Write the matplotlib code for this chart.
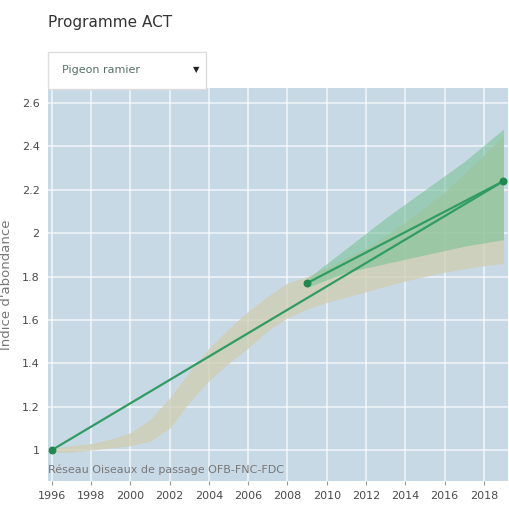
import numpy as np
import matplotlib.pyplot as plt
from matplotlib.patches import FancyBboxPatch

# trend lines
trend_years = [1996, 2019]
trend_vals = [1.0, 2.24]
short_years = [2009, 2019]
short_vals = [1.77, 2.24]

# long-term confidence band (grey)
band_years = [1996, 1997, 1998, 1999, 2000, 2001, 2002, 2003, 2004, 2005, 2006,
              2007, 2008, 2009, 2010, 2012, 2014, 2016, 2018, 2019]
band_low = [0.99, 0.99, 1.00, 1.01, 1.02, 1.04, 1.10, 1.22, 1.32, 1.40, 1.47,
            1.55, 1.61, 1.65, 1.68, 1.73, 1.78, 1.82, 1.85, 1.86]
band_high = [1.01, 1.02, 1.03, 1.05, 1.08, 1.14, 1.24, 1.36, 1.47, 1.56, 1.64,
             1.71, 1.77, 1.80, 1.84, 1.93, 2.05, 2.19, 2.36, 2.45]

# short-term confidence band (green)
green_years = [2009, 2011, 2013, 2015, 2017, 2019]
green_low = [1.75, 1.82, 1.86, 1.90, 1.94, 1.97]
green_high = [1.79, 1.93, 2.07, 2.20, 2.33, 2.48]

xticks = list(range(1996, 2019, 2))
yticks = [1, 1.2, 1.4, 1.6, 1.8, 2, 2.2, 2.4, 2.6]
ytick_labels = ['1', '1.2', '1.4', '1.6', '1.8', '2', '2.2', '2.4', '2.6']

line_col = '#2f9d62'
bg_col = '#c8d9e6'
txt_col = '#4a4a4a'

fig = plt.figure(figsize=(5.1, 5.08), dpi=100)
fig.patch.set_facecolor('white')
ax = fig.add_axes([0.094, 0.053, 0.902, 0.774])
ax.set_facecolor(bg_col)

ax.fill_between(band_years, band_low, band_high, color='#cfcdb0', alpha=0.75, lw=0, zorder=2)
ax.fill_between(green_years, green_low, green_high, color='#74c092', alpha=0.55, lw=0, zorder=3)

ax.plot(trend_years, trend_vals, color=line_col, lw=1.6, zorder=4)
ax.plot(short_years, short_vals, color=line_col, lw=1.6, zorder=4)
ax.scatter([trend_years[0], short_years[0], short_years[1]],
           [trend_vals[0], short_vals[0], short_vals[1]],
           s=22, color='#1f8a50', zorder=5)

ax.set_xlim(1995.8, 2019.23)
ax.set_ylim(0.857, 2.67)
ax.set_xticks(xticks)
ax.set_yticks(yticks)
ax.set_yticklabels(ytick_labels)
ax.grid(True, color='white', lw=1.1, alpha=0.75)
ax.set_axisbelow(True)
for s in ax.spines.values():
    s.set_visible(False)
ax.tick_params(axis='x', length=3, width=0.8, color='#999999', labelsize=8, labelcolor=txt_col, pad=4)
ax.tick_params(axis='y', length=0, labelsize=8, labelcolor=txt_col, pad=6)
ax.set_ylabel("Indice d'abondance", fontsize=9.5, color='#777777', labelpad=6)

ax.text(0.0, 0.015, 'Réseau Oiseaux de passage OFB-FNC-FDC', transform=ax.transAxes,
        fontsize=8, color='#777777', ha='left', va='bottom', zorder=6)

# title and dropdown box
fig.text(48 / 510, 1 - 22 / 508, 'Programme ACT', fontsize=11, color='#333333', va='center', ha='left')
box = FancyBboxPatch((48 / 510, 1 - 89 / 508), 158 / 510, 37 / 508,
                     boxstyle='square,pad=0', transform=fig.transFigure,
                     facecolor='white', edgecolor='#dddddd', lw=1, zorder=10)
fig.patches.append(box)
fig.text(62 / 510, 1 - 70 / 508, 'Pigeon ramier', fontsize=8, color='#557066', va='center', ha='left', zorder=11)
fig.text(196 / 510, 1 - 70 / 508, '▼', fontsize=6, color='#222222', va='center', ha='center', zorder=11)

fig.savefig('out.png', dpi=100)
